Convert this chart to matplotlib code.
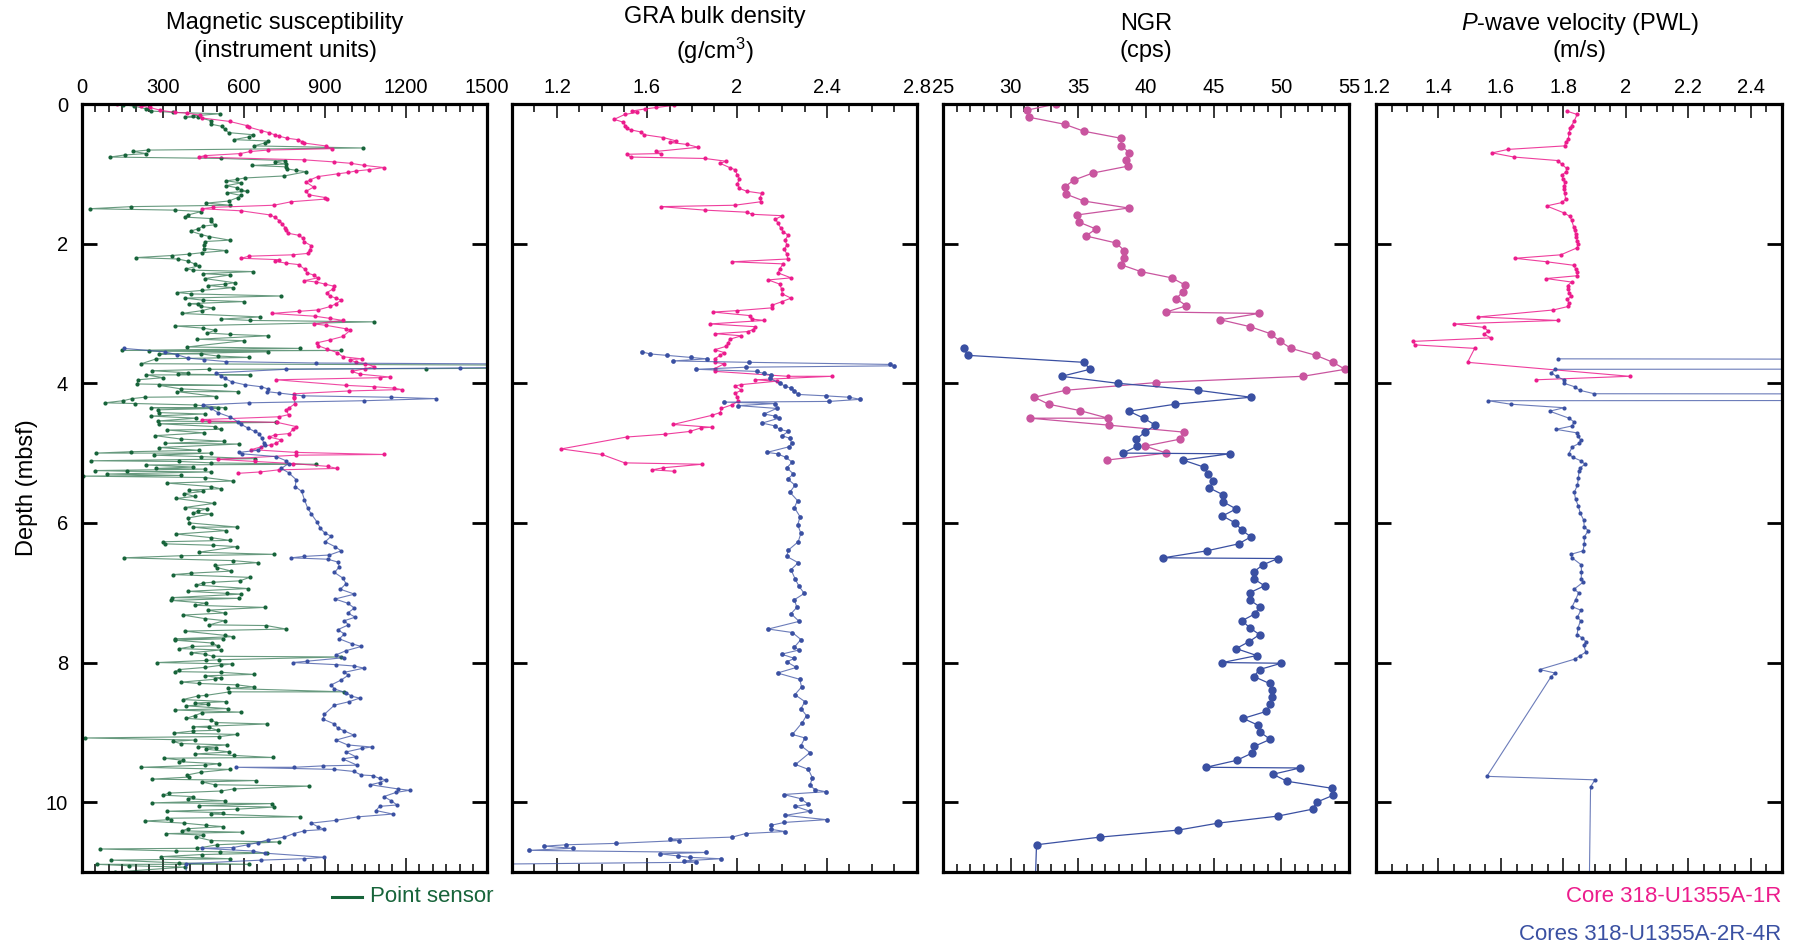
import numpy as np
import matplotlib
matplotlib.use("Agg")
import matplotlib.pyplot as plt
from matplotlib.lines import Line2D
from matplotlib.ticker import MultipleLocator

plt.rcParams['font.family'] = ['Liberation Sans', 'DejaVu Sans']
plt.rcParams['mathtext.fontset'] = 'custom'
plt.rcParams['mathtext.rm'] = 'Liberation Sans'
plt.rcParams['mathtext.it'] = 'Liberation Sans:italic'

PINK = '#EC1C8C'
BLUE = '#3A50A2'
GREEN = '#17643A'
NGR_PINK = '#C9559F'

# (depth mbsf, value) pairs
ms_core1 = [(0.00,130),(0.03,217),(0.05,252),(0.09,290),(0.12,343),(0.13,389),(0.16,436),(0.20,444),(0.25,547),(0.31,611),(0.33,617),(0.38,664),(0.41,691),(0.44,713),(0.46,730),(0.49,759),(0.51,799),(0.54,815),(0.56,824),(0.60,902),(0.64,925),(0.66,688),(0.68,624),(0.71,587),(0.74,454),(0.76,432),(0.80,824),(0.83,935),(0.85,997),(0.88,1046),(0.91,1118),(0.94,1064),(0.96,1013),(0.98,987),(1.00,947),(1.04,873),(1.09,843),(1.12,830),(1.19,858),(1.25,830),(1.30,840),(1.34,901),(1.36,908),(1.40,775),(1.45,711),(1.48,485),(1.50,444),(1.53,590),(1.59,698),(1.62,713),(1.67,731),(1.72,742),(1.77,752),(1.81,756),(1.85,762),(1.88,802),(1.92,818),(1.97,822),(2.03,849),(2.09,843),(2.14,836),(2.16,781),(2.18,617),(2.21,590),(2.23,731),(2.25,713),(2.28,756),(2.30,802),(2.37,826),(2.42,834),(2.45,858),(2.49,873),(2.53,824),(2.55,868),(2.58,901),(2.61,933),(2.65,929),(2.70,908),(2.75,917),(2.78,941),(2.81,960),(2.86,941),(2.90,920),(2.95,873),(2.97,802),(3.00,703),(3.04,864),(3.07,917),(3.10,966),(3.15,859),(3.17,904),(3.22,978),(3.24,994),(3.33,966),(3.38,917),(3.42,871),(3.46,873),(3.51,908),(3.56,945),(3.62,966),(3.65,1036),(3.66,991),(3.70,1015),(3.72,1049),(3.76,1083),(3.79,1049),(3.83,999),(3.87,1031),(3.91,1139),(3.92,1105),(3.95,719),(4.03,978),(4.05,1083),(4.07,1157),(4.09,1184),(4.11,990),(4.15,787),(4.19,787),(4.21,784),(4.29,790),(4.35,768),(4.38,756),(4.45,765),(4.48,729),(4.52,444),(4.54,472),(4.56,723),(4.62,793),(4.66,781),(4.72,768),(4.74,713),(4.77,694),(4.81,737),(4.86,720),(4.88,700),(4.91,664),(4.95,627),(4.99,793),(5.02,1120),(5.03,793),(5.09,503),(5.12,639),(5.15,781),(5.19,910),(5.22,945),(5.24,728),(5.27,661),(5.29,577)]

ms_cores2_4 = [(3.50,155),(3.55,306),(3.59,351),(3.64,393),(3.66,451),(3.69,534),(3.71,866),(3.74,2500),(3.78,1401),(3.80,756),(3.85,497),(3.89,516),(3.93,528),(3.98,555),(4.02,602),(4.05,664),(4.08,688),(4.12,686),(4.14,731),(4.18,818),(4.20,1145),(4.22,1311),(4.25,1044),(4.28,617),(4.31,448),(4.36,479),(4.42,503),(4.48,547),(4.55,577),(4.59,590),(4.64,614),(4.69,639),(4.72,657),(4.79,666),(4.85,673),(4.88,676),(4.96,651),(4.99,582),(5.01,592),(5.05,719),(5.11,756),(5.15,765),(5.22,738),(5.28,765),(5.38,793),(5.48,790),(5.55,814),(5.67,824),(5.79,836),(5.87,849),(5.99,871),(6.08,883),(6.15,901),(6.19,923),(6.27,901),(6.34,937),(6.40,960),(6.46,916),(6.48,822),(6.50,775),(6.52,910),(6.56,947),(6.63,953),(6.71,935),(6.79,966),(6.87,978),(6.95,957),(7.02,1009),(7.09,937),(7.15,984),(7.22,1009),(7.29,984),(7.35,1012),(7.40,972),(7.46,987),(7.53,947),(7.59,972),(7.66,953),(7.73,999),(7.77,1034),(7.83,978),(7.89,941),(7.93,972),(7.98,834),(8.00,781),(8.03,941),(8.05,1009),(8.08,1044),(8.14,972),(8.18,987),(8.25,960),(8.32,923),(8.38,935),(8.43,978),(8.48,997),(8.51,1028),(8.56,990),(8.61,935),(8.74,898),(8.81,892),(8.88,935),(8.94,947),(8.98,972),(9.04,1007),(9.11,941),(9.18,984),(9.21,1073),(9.23,1036),(9.28,978),(9.35,1015),(9.38,966),(9.47,1019),(9.48,892),(9.50,787),(9.50,571),(9.53,932),(9.56,1007),(9.61,1034),(9.62,1077),(9.66,1102),(9.68,1126),(9.72,1102),(9.75,1068),(9.81,1170),(9.83,1213),(9.86,1163),(9.92,1118),(9.98,1145),(10.04,1167),(10.06,1102),(10.12,1089),(10.17,1151),(10.21,1022),(10.26,941),(10.30,849),(10.35,873),(10.39,898),(10.41,824),(10.45,784),(10.50,750),(10.54,688),(10.58,651),(10.61,614),(10.65,559),(10.66,444),(10.70,633),(10.73,676),(10.79,898),(10.81,822),(10.83,664),(10.88,386),(11.10,386)]

ms_point = [(0.01,152),(0.03,192),(0.07,238),(0.10,254),(0.12,337),(0.14,511),(0.17,411),(0.19,380),(0.19,429),(0.24,479),(0.29,479),(0.32,518),(0.36,528),(0.41,543),(0.44,633),(0.47,620),(0.51,562),(0.53,688),(0.56,676),(0.60,637),(0.63,1040),(0.66,244),(0.68,189),(0.71,238),(0.73,158),(0.76,104),(0.78,516),(0.81,752),(0.83,713),(0.86,756),(0.88,629),(0.90,756),(0.93,760),(0.95,793),(0.97,830),(1.03,750),(1.06,602),(1.08,575),(1.10,534),(1.13,590),(1.17,534),(1.20,575),(1.23,590),(1.25,612),(1.27,538),(1.31,590),(1.34,577),(1.39,543),(1.42,460),(1.45,550),(1.47,183),(1.50,28),(1.52,343),(1.54,442),(1.59,392),(1.62,380),(1.64,476),(1.67,476),(1.73,491),(1.75,448),(1.79,429),(1.82,402),(1.87,442),(1.90,472),(1.95,547),(1.97,454),(2.02,451),(2.07,451),(2.10,534),(2.13,444),(2.15,398),(2.17,333),(2.20,201),(2.22,355),(2.25,392),(2.29,417),(2.32,432),(2.36,386),(2.38,411),(2.40,633),(2.43,448),(2.45,547),(2.50,454),(2.56,565),(2.58,530),(2.60,466),(2.63,559),(2.67,444),(2.70,353),(2.72,405),(2.75,738),(2.78,380),(2.81,448),(2.83,599),(2.86,395),(2.87,429),(2.90,439),(2.92,485),(2.96,444),(3.00,370),(3.05,661),(3.08,516),(3.10,624),(3.12,1083),(3.18,345),(3.21,448),(3.24,494),(3.28,464),(3.30,550),(3.32,688),(3.37,427),(3.39,599),(3.48,390),(3.50,806),(3.53,148),(3.53,960),(3.54,247),(3.55,688),(3.58,287),(3.58,442),(3.61,503),(3.63,620),(3.65,275),(3.72,220),(3.76,3000),(3.79,1274),(3.80,472),(3.82,259),(3.85,392),(3.87,355),(3.88,624),(3.88,238),(3.92,300),(3.95,207),(4.01,205),(4.03,528),(4.03,287),(4.08,365),(4.12,577),(4.12,353),(4.19,497),(4.20,232),(4.22,185),(4.25,152),(4.28,84),(4.29,195),(4.31,417),(4.35,528),(4.35,256),(4.36,503),(4.38,281),(4.42,284),(4.44,454),(4.47,254),(4.50,423),(4.54,281),(4.56,719),(4.58,285),(4.62,491),(4.66,513),(4.67,316),(4.71,451),(4.75,271),(4.80,368),(4.83,525),(4.86,306),(4.87,583),(4.92,287),(4.96,432),(4.98,182),(5.00,53),(5.00,476),(5.03,266),(5.05,439),(5.08,639),(5.11,35),(5.12,361),(5.14,479),(5.16,867),(5.17,238),(5.20,411),(5.22,275),(5.23,454),(5.25,49),(5.26,168),(5.27,476),(5.30,94),(5.32,365),(5.33,4),(5.35,454),(5.40,559),(5.43,316),(5.48,479),(5.51,513),(5.53,398),(5.55,448),(5.58,377),(5.62,417),(5.65,349),(5.72,488),(5.78,380),(5.80,464),(5.83,429),(5.86,411),(5.87,479),(5.93,392),(6.00,398),(6.06,575),(6.06,411),(6.11,534),(6.16,349),(6.21,476),(6.25,547),(6.27,300),(6.30,308),(6.32,485),(6.34,575),(6.42,432),(6.45,710),(6.47,368),(6.50,154),(6.54,559),(6.57,651),(6.61,491),(6.64,501),(6.69,553),(6.72,405),(6.74,338),(6.78,621),(6.83,584),(6.85,485),(6.86,448),(6.89,423),(6.94,614),(6.98,392),(7.01,538),(7.02,590),(7.07,333),(7.08,583),(7.11,331),(7.15,460),(7.18,417),(7.21,676),(7.25,466),(7.29,528),(7.32,374),(7.37,454),(7.40,528),(7.46,472),(7.47,682),(7.52,756),(7.55,380),(7.61,528),(7.63,559),(7.66,343),(7.66,522),(7.68,345),(7.72,481),(7.76,503),(7.77,407),(7.80,361),(7.82,513),(7.86,402),(7.88,454),(7.91,485),(7.92,960),(7.96,509),(7.97,460),(8.00,279),(8.02,555),(8.04,513),(8.07,454),(8.10,361),(8.13,343),(8.14,516),(8.17,637),(8.19,454),(8.22,516),(8.24,491),(8.28,368),(8.30,435),(8.32,575),(8.35,637),(8.37,540),(8.42,972),(8.42,546),(8.47,460),(8.48,429),(8.53,373),(8.56,534),(8.58,417),(8.60,466),(8.62,386),(8.66,540),(8.68,345),(8.71,590),(8.72,444),(8.76,417),(8.80,386),(8.82,476),(8.86,497),(8.88,686),(8.92,411),(8.93,469),(8.97,503),(8.98,411),(9.01,340),(9.03,575),(9.06,509),(9.08,10),(9.11,417),(9.13,337),(9.16,365),(9.18,538),(9.21,429),(9.22,497),(9.24,460),(9.28,546),(9.31,417),(9.33,562),(9.36,707),(9.37,303),(9.40,374),(9.42,361),(9.45,509),(9.47,456),(9.50,220),(9.53,547),(9.57,442),(9.61,390),(9.64,398),(9.67,259),(9.69,645),(9.71,444),(9.75,491),(9.77,842),(9.81,562),(9.84,516),(9.87,321),(9.90,300),(9.92,411),(9.95,392),(9.98,528),(10.01,259),(10.02,703),(10.05,435),(10.07,711),(10.10,575),(10.13,316),(10.15,522),(10.17,479),(10.21,806),(10.23,316),(10.25,328),(10.27,232),(10.30,377),(10.33,460),(10.35,522),(10.38,392),(10.41,370),(10.43,592),(10.45,312),(10.47,448),(10.50,423),(10.55,479),(10.57,731),(10.61,501),(10.66,427),(10.67,67),(10.70,347),(10.71,510),(10.73,686),(10.75,444),(10.78,294),(10.81,550),(10.83,109),(10.87,361),(10.89,617),(10.89,54),(10.91,173),(10.93,380),(11.00,121)]

gra_core1 = [(0.02,1.719),(0.05,1.642),(0.07,1.593),(0.10,1.534),(0.12,1.556),(0.15,1.501),(0.22,1.454),(0.26,1.494),(0.31,1.504),(0.35,1.509),(0.37,1.528),(0.40,1.572),(0.44,1.587),(0.48,1.672),(0.53,1.731),(0.55,1.701),(0.58,1.780),(0.62,1.827),(0.68,1.638),(0.71,1.661),(0.72,1.510),(0.76,1.528),(0.78,1.857),(0.82,1.952),(0.85,1.925),(0.91,1.967),(0.94,1.990),(1.01,2.001),(1.07,2.011),(1.14,2.002),(1.21,2.011),(1.25,2.044),(1.28,2.109),(1.34,2.103),(1.40,2.106),(1.45,1.990),(1.47,1.661),(1.52,1.857),(1.55,2.045),(1.58,2.068),(1.60,2.201),(1.65,2.171),(1.71,2.183),(1.78,2.195),(1.83,2.205),(1.88,2.228),(1.95,2.213),(2.02,2.222),(2.08,2.210),(2.15,2.222),(2.22,2.225),(2.26,1.979),(2.29,2.205),(2.36,2.190),(2.42,2.183),(2.49,2.240),(2.52,2.139),(2.58,2.190),(2.65,2.198),(2.72,2.201),(2.78,2.240),(2.83,2.201),(2.88,2.157),(2.92,2.154),(2.96,1.999),(2.98,1.893),(3.03,2.056),(3.08,2.065),(3.10,2.121),(3.15,1.879),(3.19,2.082),(3.23,2.072),(3.26,2.047),(3.29,1.904),(3.32,2.020),(3.37,1.967),(3.43,1.961),(3.47,1.952),(3.52,1.901),(3.56,1.943),(3.60,1.925),(3.65,1.901),(3.70,1.901),(3.72,1.943),(3.79,1.901),(3.83,1.904),(3.90,2.225),(3.90,2.421),(3.95,2.082),(3.97,2.176),(4.02,2.017),(4.04,1.990),(4.10,2.020),(4.14,1.993),(4.20,2.002),(4.26,2.005),(4.31,1.976),(4.36,1.931),(4.42,1.925),(4.46,1.887),(4.59,1.716),(4.63,1.887),(4.64,1.839),(4.69,1.790),(4.73,1.679),(4.77,1.509),(4.94,1.219),(5.02,1.400),(5.14,1.501),(5.16,1.845),(5.21,1.672),(5.24,1.623),(5.26,1.719)]

gra_cores2_4 = [(3.55,1.578),(3.58,1.614),(3.60,1.687),(3.63,1.795),(3.65,1.866),(3.68,1.715),(3.70,2.054),(3.73,2.681),(3.75,2.698),(3.77,2.038),(3.80,1.820),(3.83,2.088),(3.86,2.118),(3.88,2.150),(3.93,2.147),(4.00,2.190),(4.04,2.213),(4.07,2.240),(4.11,2.254),(4.16,2.272),(4.18,2.394),(4.20,2.498),(4.23,2.548),(4.26,2.409),(4.27,1.943),(4.29,2.171),(4.32,2.005),(4.36,2.176),(4.44,2.121),(4.47,2.168),(4.50,2.186),(4.57,2.112),(4.61,2.168),(4.66,2.190),(4.69,2.228),(4.75,2.201),(4.79,2.235),(4.86,2.243),(4.91,2.231),(4.99,2.133),(5.01,2.180),(5.06,2.216),(5.13,2.246),(5.21,2.221),(5.30,2.251),(5.37,2.225),(5.46,2.258),(5.56,2.235),(5.68,2.269),(5.78,2.255),(5.91,2.280),(6.03,2.270),(6.15,2.284),(6.27,2.272),(6.39,2.228),(6.48,2.221),(6.57,2.272),(6.67,2.240),(6.80,2.258),(6.91,2.276),(7.01,2.299),(7.10,2.255),(7.21,2.266),(7.30,2.240),(7.41,2.276),(7.52,2.139),(7.57,2.246),(7.67,2.284),(7.78,2.255),(7.82,2.276),(7.88,2.198),(7.94,2.255),(7.99,2.221),(8.07,2.264),(8.15,2.180),(8.24,2.279),(8.35,2.287),(8.46,2.257),(8.56,2.302),(8.66,2.284),(8.76,2.309),(8.86,2.290),(9.03,2.246),(9.08,2.302),(9.19,2.284),(9.29,2.324),(9.46,2.260),(9.53,2.317),(9.65,2.335),(9.76,2.324),(9.82,2.347),(9.85,2.394),(9.89,2.207),(9.95,2.284),(10.03,2.317),(10.06,2.260),(10.13,2.324),(10.19,2.213),(10.25,2.398),(10.29,2.210),(10.33,2.153),(10.39,2.153),(10.42,2.213),(10.45,2.038),(10.50,1.979),(10.53,1.701),(10.55,1.741),(10.59,1.464),(10.61,1.242),(10.63,1.142),(10.66,1.270),(10.69,1.074),(10.72,1.863),(10.74,1.657),(10.77,1.738),(10.79,1.790),(10.81,1.927),(10.84,1.765),(10.86,1.820),(10.90,0.500)]

ngr_core1 = [(0.00,33.34),(0.09,31.17),(0.19,31.37),(0.29,33.98),(0.39,35.41),(0.49,38.13),(0.60,38.18),(0.70,38.77),(0.80,38.52),(0.89,38.67),(0.99,36.05),(1.09,34.67),(1.19,33.98),(1.29,34.08),(1.39,35.41),(1.49,38.72),(1.59,34.87),(1.69,35.02),(1.79,36.30),(1.89,35.56),(1.99,37.78),(2.10,38.40),(2.20,38.40),(2.30,38.13),(2.40,39.61),(2.49,41.90),(2.59,42.86),(2.69,42.72),(2.79,42.22),(2.89,42.99),(2.98,41.48),(3.00,48.34),(3.09,45.50),(3.19,47.70),(3.29,49.20),(3.40,49.92),(3.50,50.71),(3.60,52.56),(3.70,53.82),(3.80,54.71),(3.90,51.60),(3.99,40.74),(4.10,34.08),(4.20,31.76),(4.30,32.80),(4.39,35.09),(4.50,37.19),(4.50,31.44),(4.60,37.26),(4.70,42.81),(4.80,42.52),(4.90,39.93),(5.00,41.51),(5.10,37.11)]

ngr_cores2_4 = [(3.50,26.53),(3.60,26.83),(3.70,35.41),(3.80,35.86),(3.90,33.76),(4.00,37.90),(4.10,43.83),(4.20,47.75),(4.30,42.15),(4.40,38.74),(4.50,39.83),(4.60,40.69),(4.70,39.93),(4.80,39.29),(4.90,39.36),(5.00,38.30),(5.01,46.17),(5.10,42.74),(5.20,44.27),(5.30,44.59),(5.40,44.96),(5.50,44.69),(5.60,45.72),(5.70,45.72),(5.80,46.66),(5.90,45.65),(6.00,46.59),(6.10,47.06),(6.20,47.75),(6.30,46.84),(6.40,44.49),(6.50,41.28),(6.51,49.75),(6.60,48.64),(6.70,47.97),(6.80,47.95),(6.90,48.76),(7.00,47.67),(7.10,47.65),(7.20,48.39),(7.30,48.07),(7.40,47.11),(7.50,47.65),(7.60,48.39),(7.70,47.62),(7.80,46.66),(7.90,48.19),(8.00,45.65),(8.01,49.99),(8.10,48.39),(8.20,47.97),(8.30,49.13),(8.40,49.33),(8.50,49.33),(8.60,49.18),(8.70,48.88),(8.80,47.18),(8.90,48.31),(9.00,48.46),(9.10,49.18),(9.20,48.00),(9.30,47.80),(9.40,46.71),(9.50,44.44),(9.51,51.38),(9.60,49.38),(9.70,50.41),(9.80,53.72),(9.90,53.84),(10.00,52.61),(10.10,52.31),(10.20,49.72),(10.30,45.33),(10.40,42.37),(10.50,36.62),(10.61,31.91),(11.20,31.81)]

pwl_core1 = [(0.10,1.810),(0.15,1.844),(0.25,1.834),(0.31,1.826),(0.35,1.822),(0.41,1.818),(0.50,1.816),(0.55,1.807),(0.60,1.804),(0.65,1.623),(0.70,1.572),(0.76,1.642),(0.81,1.782),(0.86,1.794),(0.92,1.810),(0.97,1.809),(1.02,1.795),(1.07,1.799),(1.12,1.804),(1.17,1.803),(1.22,1.802),(1.27,1.804),(1.36,1.807),(1.41,1.797),(1.46,1.746),(1.56,1.802),(1.61,1.821),(1.66,1.826),(1.76,1.833),(1.81,1.836),(1.86,1.839),(1.91,1.841),(1.96,1.845),(2.01,1.847),(2.06,1.844),(2.16,1.792),(2.21,1.645),(2.26,1.747),(2.31,1.833),(2.36,1.839),(2.41,1.845),(2.46,1.844),(2.50,1.745),(2.55,1.826),(2.60,1.814),(2.65,1.816),(2.70,1.819),(2.75,1.825),(2.80,1.813),(2.85,1.817),(2.90,1.815),(2.95,1.768),(3.05,1.527),(3.10,1.782),(3.15,1.450),(3.20,1.546),(3.25,1.559),(3.30,1.546),(3.35,1.569),(3.40,1.320),(3.45,1.324),(3.50,1.516),(3.70,1.493),(3.90,2.012),(3.95,1.713)]

pwl_cores2_4 = [(3.65,1.783),(3.75,20.0),(3.80,1.774),(3.85,1.761),(3.90,1.778),(3.95,1.801),(4.00,1.802),(4.05,1.836),(4.10,1.852),(4.15,1.899),(4.20,20.0),(4.25,1.559),(4.30,1.632),(4.35,1.802),(4.40,1.756),(4.50,1.818),(4.55,1.833),(4.61,1.829),(4.66,1.777),(4.71,1.843),(4.76,1.847),(4.81,1.855),(4.86,1.851),(4.91,1.829),(5.01,1.817),(5.06,1.830),(5.11,1.856),(5.16,1.869),(5.21,1.854),(5.26,1.850),(5.36,1.848),(5.46,1.845),(5.56,1.835),(5.66,1.839),(5.76,1.848),(5.86,1.854),(5.96,1.865),(6.06,1.867),(6.11,1.880),(6.20,1.867),(6.30,1.867),(6.40,1.863),(6.45,1.824),(6.50,1.828),(6.60,1.857),(6.70,1.858),(6.80,1.857),(6.85,1.863),(6.95,1.834),(7.00,1.849),(7.10,1.839),(7.20,1.828),(7.25,1.856),(7.35,1.845),(7.40,1.855),(7.50,1.847),(7.60,1.844),(7.65,1.861),(7.70,1.872),(7.75,1.865),(7.85,1.872),(7.90,1.854),(7.95,1.837),(8.10,1.724),(8.15,1.773),(8.20,1.761),(9.63,1.555),(9.68,1.901),(9.78,1.887),(11.20,1.883)]

ms_ticks = [0, 300, 600, 900, 1200, 1500]
ms_labels = ['0', '300', '600', '900', '1200', '1500']
gra_ticks = [1.2, 1.6, 2.0, 2.4, 2.8]
gra_labels = ['1.2', '1.6', '2', '2.4', '2.8']
ngr_ticks = [25, 30, 35, 40, 45, 50, 55]
ngr_labels = ['25', '30', '35', '40', '45', '50', '55']
pwl_ticks = [1.2, 1.4, 1.6, 1.8, 2.0, 2.2, 2.4]
pwl_labels = ['1.2', '1.4', '1.6', '1.8', '2', '2.2', '2.4']
depth_ticks = [0, 2, 4, 6, 8, 10]

W, H = 1806, 949
fig = plt.figure(figsize=(W / 100, H / 100), dpi=100)

lefts = [82, 512, 943, 1376]
widths = [405, 405, 406, 406]
top_px, bot_px = 104, 872


def make_axes(i):
    ax = fig.add_axes([lefts[i] / W, 1 - bot_px / H, widths[i] / W, (bot_px - top_px) / H])
    ax.set_ylim(11, 0)
    for s in ax.spines.values():
        s.set_linewidth(2.3)
    ax.xaxis.set_ticks_position('both')
    ax.tick_params(axis='x', which='both', direction='in', top=True, bottom=True,
                   labeltop=True, labelbottom=False, width=1.1, labelsize=14.5, pad=5)
    ax.tick_params(axis='x', which='major', length=10)
    ax.tick_params(axis='x', which='minor', length=5.5)
    ax.set_yticks(depth_ticks)
    ax.tick_params(axis='y', which='both', direction='in', left=True, right=True,
                   length=11, width=2, labelsize=14.5, pad=10, labelleft=(i == 0))
    return ax


def draw(ax, pairs, color, ms=3.0, lw=0.8, alpha=1.0):
    arr = np.array(pairs)
    ax.plot(arr[:, 1], arr[:, 0], '-', color=color, lw=lw, alpha=alpha)
    ax.plot(arr[:, 1], arr[:, 0], 'o', color=color, ms=ms, mec='none')


# Magnetic susceptibility
ax1 = make_axes(0)
draw(ax1, ms_point, GREEN, alpha=0.65)
draw(ax1, ms_core1, PINK, alpha=0.8)
draw(ax1, ms_cores2_4, BLUE, alpha=0.75)
ax1.set_xlim(0, 1500)
ax1.set_xticks(ms_ticks)
ax1.set_xticklabels(ms_labels)
ax1.xaxis.set_minor_locator(MultipleLocator(50))
ax1.set_ylabel('Depth (mbsf)', fontsize=17, labelpad=6)

# GRA bulk density
ax2 = make_axes(1)
draw(ax2, gra_core1, PINK, alpha=0.85)
draw(ax2, gra_cores2_4, BLUE, ms=3.4, alpha=0.75)
ax2.set_xlim(1.0, 2.8)
ax2.set_xticks(gra_ticks)
ax2.set_xticklabels(gra_labels)
ax2.xaxis.set_minor_locator(MultipleLocator(0.1))

# NGR
ax3 = make_axes(2)
draw(ax3, ngr_core1, NGR_PINK, ms=6, lw=0.9)
draw(ax3, ngr_cores2_4, BLUE, ms=6, lw=0.9)
ax3.set_xlim(25, 55)
ax3.set_xticks(ngr_ticks)
ax3.set_xticklabels(ngr_labels)
ax3.xaxis.set_minor_locator(MultipleLocator(1))

# P-wave velocity
ax4 = make_axes(3)
draw(ax4, pwl_core1, PINK, alpha=0.85)
draw(ax4, pwl_cores2_4, BLUE, alpha=0.75)
ax4.set_xlim(1.2, 2.5)
ax4.set_xticks(pwl_ticks)
ax4.set_xticklabels(pwl_labels)
ax4.xaxis.set_minor_locator(MultipleLocator(0.05))


# panel titles
def ftext(x, y, s, **kw):
    fig.text(x / W, 1 - y / H, s, ha='center', va='center', fontsize=17, **kw)


ftext(285, 23, 'Magnetic susceptibility')
ftext(285, 51, '(instrument units)')
ftext(715, 17, 'GRA bulk density')
ftext(715, 51, '(g/cm$^3$)')
ftext(1146, 24, 'NGR')
ftext(1146, 51, '(cps)')
ftext(1580, 24, '$\\it{P}$-wave velocity (PWL)')
ftext(1580, 51, '(m/s)')

# legends
fig.add_artist(Line2D([332 / W, 362 / W], [1 - 897 / H, 1 - 897 / H], color=GREEN, lw=2.2))
fig.text(370 / W, 1 - 897 / H, 'Point sensor', color=GREEN, fontsize=16, ha='left', va='center')
fig.text(1781 / W, 1 - 897 / H, 'Core 318-U1355A-1R', color=PINK, fontsize=16, ha='right', va='center')
fig.text(1781 / W, 1 - 935 / H, 'Cores 318-U1355A-2R-4R', color=BLUE, fontsize=16, ha='right', va='center')

fig.savefig('out.png', dpi=100)
